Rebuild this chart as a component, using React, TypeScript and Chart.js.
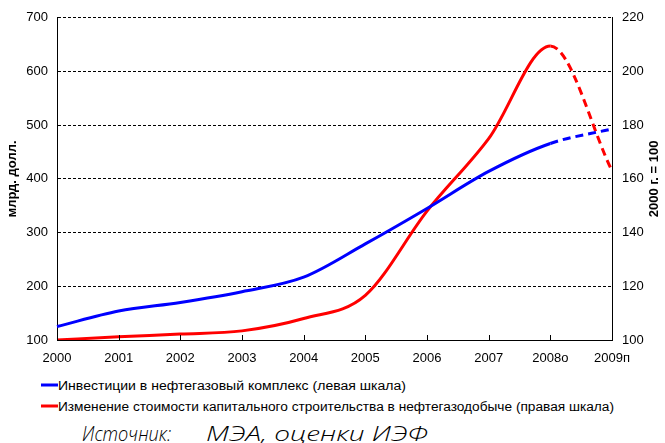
import React, { useEffect, useRef } from "react";
import { Chart, registerables } from "chart.js";

Chart.register(...registerables);

const years = ["2000", "2001", "2002", "2003", "2004", "2005", "2006", "2007", "2008о", "2009п"];
const investments = [125, 154, 170, 190, 217, 279, 345, 414, 466, 493];
const costIndex = [100, 101.2, 102.2, 103.4, 108, 116.6, 148, 175, 209.5, 163];
const leftTitle = "млрд. долл.";
const rightTitle = "2000 г. = 100";
const legendLabels = [
  "Инвестиции в нефтегазовый комплекс (левая шкала)",
  "Изменение стоимости капитального строительства в нефтегазодобыче (правая шкала)",
];
const legendColors = ["#0000FF", "#FF0000"];
const sourceLabel = "Источник:";
const sourceText = "МЭА, оценки ИЭФ";

const FONT = "'Liberation Sans', Arial, sans-serif";

const extrasPlugin = {
  id: "extras",
  afterDraw(chart: any) {
    const ctx = chart.ctx;
    const x = chart.scales.x;
    const area = chart.chartArea;
    ctx.save();
    ctx.strokeStyle = "#000";
    ctx.lineWidth = 1;
    ctx.setLineDash([]);
    x.ticks.forEach((_t: any, i: number) => {
      const px = Math.round(x.getPixelForTick(i)) + 0.5;
      ctx.beginPath();
      ctx.moveTo(px, area.bottom);
      ctx.lineTo(px, area.bottom - 5);
      ctx.stroke();
    });
    ctx.translate(654, (area.top + area.bottom) / 2);
    ctx.rotate(-Math.PI / 2);
    ctx.font = `bold 13px ${FONT}`;
    ctx.fillStyle = "#000";
    ctx.textAlign = "center";
    ctx.textBaseline = "middle";
    ctx.fillText(rightTitle, 0, 0);
    ctx.restore();
  },
};

export default function App() {
  const ref = useRef<HTMLCanvasElement>(null);
  useEffect(() => {
    if (!ref.current) return;
    const dash = (c: any) => (c.p0DataIndex >= 8 ? [8, 5] : undefined);
    const chart = new Chart(ref.current, {
      type: "line",
      data: {
        labels: years,
        datasets: [
          {
            label: legendLabels[0],
            data: investments,
            yAxisID: "y",
            borderColor: legendColors[0],
            borderWidth: 3,
            pointRadius: 0,
            cubicInterpolationMode: "monotone",
            segment: { borderDash: dash },
          },
          {
            label: legendLabels[1],
            data: costIndex,
            yAxisID: "y1",
            borderColor: legendColors[1],
            borderWidth: 3,
            pointRadius: 0,
            cubicInterpolationMode: "monotone",
            segment: { borderDash: dash },
          },
        ],
      },
      options: {
        animation: false,
        responsive: false,
        devicePixelRatio: 1,
        layout: { padding: { top: 15, left: 0, right: 0, bottom: 0 } },
        plugins: { legend: { display: false }, tooltip: { enabled: false } },
        scales: {
          x: {
            offset: false,
            grid: { drawOnChartArea: false, drawTicks: false },
            border: { display: true, color: "#000", width: 1 },
            ticks: { color: "#000", font: { family: FONT, size: 13 }, padding: 11, maxRotation: 0, autoSkip: false },
            afterFit: (s: any) => { s.height = 25; },
          },
          y: {
            position: "left",
            min: 100,
            max: 700,
            ticks: { stepSize: 100, color: "#000", font: { family: FONT, size: 13 }, padding: 9 },
            grid: { color: "#000", lineWidth: 1, drawTicks: false },
            border: { display: true, color: "#000", width: 1, dash: [3, 2] },
            title: { display: true, text: leftTitle, color: "#000", font: { family: FONT, size: 13, weight: "bold" }, padding: { top: 5, bottom: 0 } },
            afterFit: (s: any) => { s.width = 57; },
          },
          y1: {
            position: "right",
            min: 100,
            max: 220,
            ticks: { stepSize: 20, color: "#000", font: { family: FONT, size: 13 }, padding: 10 },
            grid: { drawOnChartArea: false, drawTicks: false },
            border: { display: true, color: "#000", width: 1 },
            afterFit: (s: any) => { s.width = 53; },
          },
        },
      },
      plugins: [extrasPlugin],
    } as any);
    return () => chart.destroy();
  }, []);

  const legendRows = [
    { y: 20, width: 348 },
    { y: 41, width: 556 },
  ];

  return (
    <div style={{ position: "absolute", left: 0, top: 0, width: 665, height: 443, background: "#fff", overflow: "hidden" }}>
      <canvas ref={ref} width={665} height={365} style={{ position: "absolute", left: 0, top: 0, width: 665, height: 365 }} />
      <svg width={665} height={78} style={{ position: "absolute", left: 0, top: 365 }}>
        {legendLabels.map((label, i) => (
          <g key={i}>
            <line x1={41} x2={58} y1={legendRows[i].y} y2={legendRows[i].y} stroke={legendColors[i]} strokeWidth={3} />
            <text
              x={58}
              y={legendRows[i].y + 5}
              fontFamily={FONT}
              fontSize={12}
              fill="#000"
              textLength={legendRows[i].width}
              lengthAdjust="spacingAndGlyphs"
            >
              {label}
            </text>
          </g>
        ))}
        <text x={82} y={76} fontFamily="'Open Sans', 'DejaVu Sans', sans-serif" fontStyle="italic" fontWeight={300} fontSize={20} fill="#000" textLength={89} lengthAdjust="spacingAndGlyphs">
          {sourceLabel}
        </text>
        <text x={206} y={76} fontFamily="'Open Sans', 'DejaVu Sans', sans-serif" fontStyle="italic" fontWeight={300} fontSize={20} fill="#000" textLength={222} lengthAdjust="spacingAndGlyphs">
          {sourceText}
        </text>
      </svg>
    </div>
  );
}
